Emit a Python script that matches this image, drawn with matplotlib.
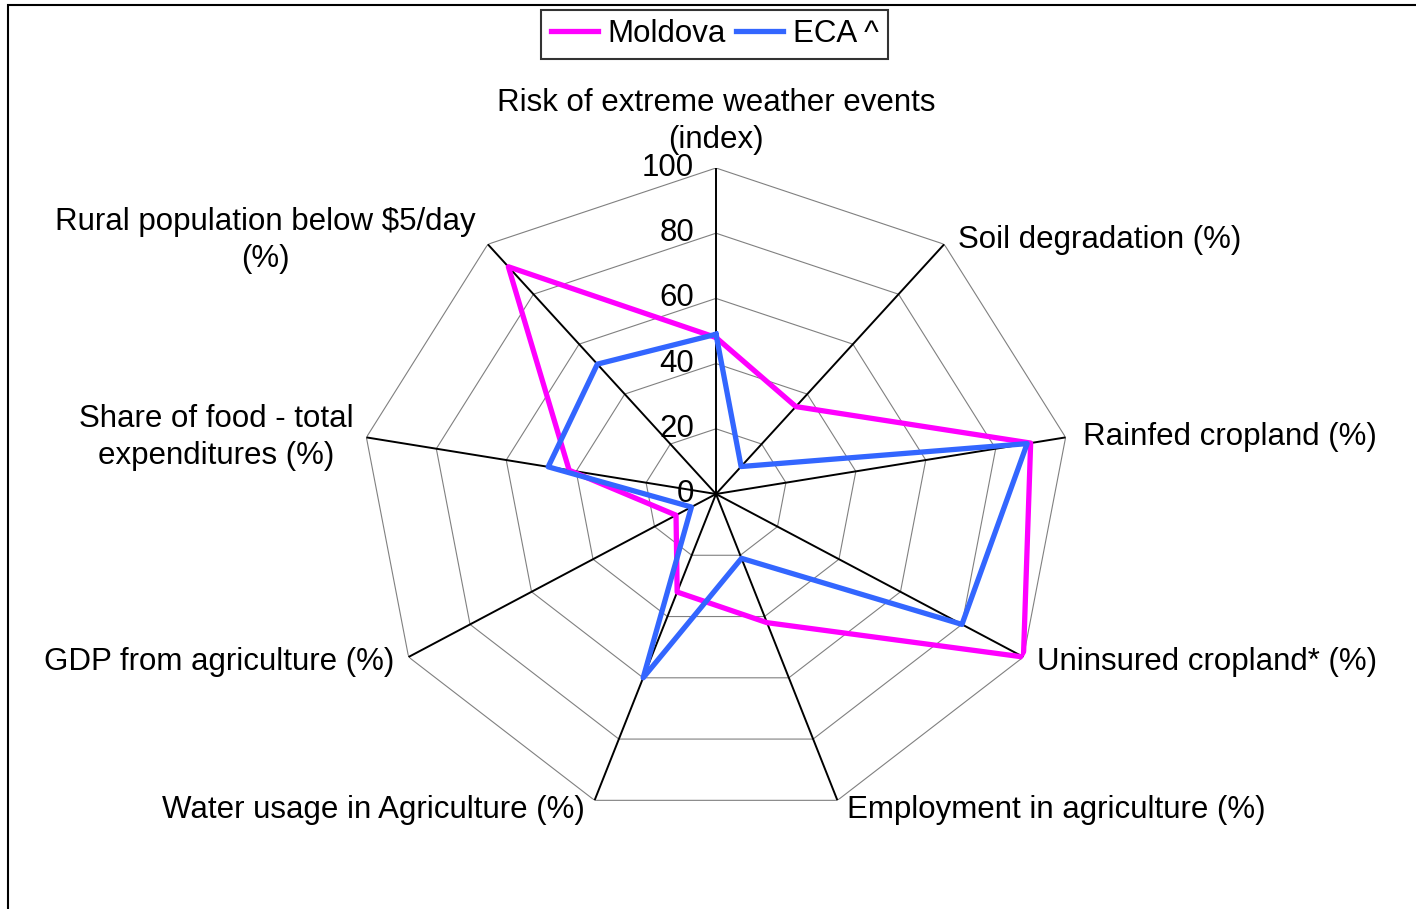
import numpy as np
import matplotlib
matplotlib.use("Agg")
import matplotlib.pyplot as plt
from matplotlib.patches import Rectangle
from matplotlib.transforms import ScaledTranslation

plt.rcParams.update({
    "font.family": ["Liberation Sans", "DejaVu Sans"],
    "font.size": 22.5,
})

categories = [
    "Risk of extreme weather events\n(index)",
    "Soil degradation (%)",
    "Rainfed cropland (%)",
    "Uninsured cropland* (%)",
    "Employment in agriculture (%)",
    "Water usage in Agriculture (%)",
    "GDP from agriculture (%)",
    "Share of food - total\nexpenditures (%)",
    "Rural population below \\$5/day\n(%)",
]
moldova = [48, 35, 90, 100, 42, 32, 13, 42, 91]
eca = [49, 11, 89, 80, 21, 60, 8, 48, 52]
r_ticks = [0, 20, 40, 60, 80, 100]

# label placement: pixel offset from the end of each spoke, alignment
label_pos = [
    ((0, 13), "center", "bottom"),
    ((14, 4), "left", "center"),
    ((17, 0), "left", "center"),
    ((14, -5), "left", "center"),
    ((10, -10), "left", "center"),
    ((-10, -10), "right", "center"),
    ((-14, -5), "right", "center"),
    ((-13, 0), "right", "center"),
    ((-12, 4), "right", "center"),
]

W, H = 1416, 909
fig = plt.figure(figsize=(W / 100, H / 100), dpi=100)

cx, cy, rx, ry = 716, 494, 355, 326
ax = fig.add_axes([(cx - rx) / W, (H - cy - ry) / H, 2 * rx / W, 2 * ry / H],
                  projection="polar")
ax.set_aspect("auto")
ax.set_theta_zero_location("N")
ax.set_theta_direction(-1)
ax.set_ylim(0, 100)
ax.grid(False)
ax.spines["polar"].set_visible(False)
ax.set_xticks([])
ax.set_yticks([])
ax.patch.set_visible(False)

n = len(categories)
theta = np.linspace(0, 2 * np.pi, n, endpoint=False)
theta_c = np.append(theta, theta[0])

# polygon gridlines
for r in r_ticks[1:]:
    ax.plot(theta_c, [r] * (n + 1), color="#808080", lw=0.8, zorder=1)
# spokes
for t in theta:
    ax.plot([t, t], [0, 100], color="black", lw=1.4, zorder=2)

ax.plot(theta_c, moldova + moldova[:1], color="#FF00FF", lw=3.8, label="Moldova", zorder=4)
ax.plot(theta_c, eca + eca[:1], color="#3366FF", lw=3.8, label="ECA ^", zorder=5)

# radial labels left of the top spoke
for r in r_ticks:
    tr = ax.transData + ScaledTranslation(-0.22, 0, fig.dpi_scale_trans)
    ax.text(0, r, str(r), transform=tr, ha="right", va="center", zorder=6)

for t, lab, (off, ha, va) in zip(theta, categories, label_pos):
    tr = ax.transData + ScaledTranslation(off[0] / 100, off[1] / 100, fig.dpi_scale_trans)
    ax.text(t, 100, lab, transform=tr, ha=ha, va=va, multialignment="center",
            linespacing=1.3)

leg = fig.legend(loc="upper center", bbox_to_anchor=(714.5 / W, 1 - 10 / H), ncol=2,
                 frameon=True, fancybox=False, edgecolor="black",
                 handlelength=1.5, handletextpad=0.3, columnspacing=0.35,
                 borderpad=0.3, borderaxespad=0)
leg.get_frame().set_linewidth(1.5)

fig.add_artist(Rectangle((8 / W, -0.1), 1.2, 1.1 - 5 / H, transform=fig.transFigure,
                         fill=False, edgecolor="black", lw=1.5, clip_on=False))

fig.savefig("out.png", dpi=100, facecolor="white")
